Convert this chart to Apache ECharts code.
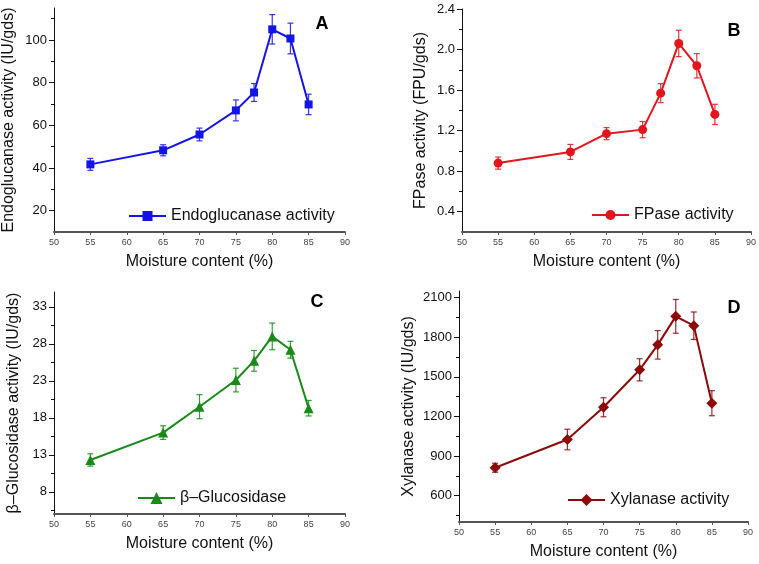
<!DOCTYPE html>
<html>
<head>
<meta charset="utf-8">
<script src="https://cdn.jsdelivr.net/npm/echarts@6/dist/echarts.min.js"></script>
<style>
html,body{margin:0;padding:0;background:#fff;}
#chart{width:759px;height:564px;}
</style>
</head>
<body>
<div id="chart"></div>
<script>
// ---- data ----
const moisture = [55, 65, 70, 75, 77.5, 80, 82.5, 85];
const xTicks = [50, 55, 60, 65, 70, 75, 80, 85, 90];

const endoMean = [41.7, 48.3, 55.7, 67.0, 75.4, 105.0, 100.7, 69.8];
const endoErr  = [2.8, 2.6, 3.0, 4.9, 4.2, 6.9, 7.2, 4.8];
const endoTicks = [20, 40, 60, 80, 100];
const endoMinor = [30, 50, 70, 90, 110];

const fpaseMean = [0.88, 0.99, 1.17, 1.21, 1.57, 2.06, 1.84, 1.36];
const fpaseErr  = [0.06, 0.074, 0.06, 0.08, 0.094, 0.13, 0.12, 0.10];
const fpaseTicks = [0.4, 0.8, 1.2, 1.6, 2.0, 2.4];
const fpaseMinor = [0.6, 1.0, 1.4, 1.8, 2.2];

const glucMean = [12.3, 16.0, 19.5, 23.1, 25.7, 29.0, 27.2, 19.3];
const glucErr  = [0.83, 0.92, 1.63, 1.6, 1.4, 1.8, 1.14, 1.05];
const glucTicks = [8, 13, 18, 23, 28, 33];
const glucMinor = [5.5, 10.5, 15.5, 20.5, 25.5, 30.5];

const xylMean = [811, 1025, 1269, 1553, 1742, 1958, 1887, 1300];
const xylErr  = [34, 78, 72, 84, 108, 128, 104, 95];
const xylTicks = [600, 900, 1200, 1500, 1800, 2100];
const xylMinor = [450, 750, 1050, 1350, 1650, 1950];

const FONT = 'Liberation Sans, Arial, sans-serif';

const panels = [
  {name:'Endoglucanase activity', yName:'Endoglucanase activity (IU/gds)', mean:endoMean, err:endoErr,
   ticks:endoTicks, minor:endoMinor, min:10, max:115, color:'#1414e6', symbol:'rect', symSize:8,
   grid:{left:54, top:8, width:291, height:224}, nameGap:37, fmt:v=>String(v),
   legend:{left:128, top:208}, letter:{t:'A', x:322, y:24}, legendH:12.5},
  {name:'FPase activity', yName:'FPase activity (FPU/gds)', mean:fpaseMean, err:fpaseErr,
   ticks:fpaseTicks, minor:fpaseMinor, min:0.2, max:2.4, color:'#e3141c', symbol:'circle', symSize:9,
   grid:{left:462, top:9, width:291, height:223}, nameGap:33, fmt:v=>v.toFixed(1),
   legend:{left:591, top:207}, letter:{t:'B', x:734, y:31}, legendH:12.5},
  {name:'β\u2013Glucosidase', yName:'β\u2013Glucosidase activity (IU/gds)', mean:glucMean, err:glucErr,
   ticks:glucTicks, minor:glucMinor, min:5, max:35, color:'#188a18', symbol:'triangle', symSize:10,
   grid:{left:54, top:292, width:291, height:222}, nameGap:32, fmt:v=>String(v),
   legend:{left:137, top:490}, letter:{t:'C', x:317, y:302}, legendH:15},
  {name:'Xylanase activity', yName:'Xylanase activity (IU/gds)', mean:xylMean, err:xylErr,
   ticks:xylTicks, minor:xylMinor, min:400, max:2150, color:'#8c0a0a', symbol:'diamond', symSize:11,
   grid:{left:459, top:291, width:289, height:231}, nameGap:42, fmt:v=>String(v),
   legend:{left:567, top:492}, letter:{t:'D', x:734, y:308}, legendH:15}
];

const grid = [], xAxis = [], yAxis = [], series = [], legend = [], graphic = [];

panels.forEach((p, i) => {
  grid.push(Object.assign({containLabel:false}, p.grid));
  xAxis.push({
    type:'value', gridIndex:i, min:50, max:90, interval:5,
    name:'Moisture content (%)', nameLocation:'middle', nameGap:22,
    nameTextStyle:{fontFamily:FONT, fontSize:16, color:'#111'},
    axisLine:{onZero:false, lineStyle:{color:'#555', width:2}},
    axisTick:{show:true, length:3, lineStyle:{color:'#555', width:1}},
    axisLabel:{fontFamily:FONT, fontSize:9, color:'#444', margin:6},
    splitLine:{show:false}
  });
  // major axis (labels + major ticks)
  yAxis.push({
    type:'value', gridIndex:i, position:'left', min:p.min, max:p.max,
    name:p.yName, nameLocation:'middle', nameGap:p.nameGap,
    nameTextStyle:{fontFamily:FONT, fontSize:16, color:'#111'},
    axisLine:{onZero:false, lineStyle:{color:'#111', width:1}},
    axisTick:{show:true, length:5, customValues:p.ticks, lineStyle:{color:'#111', width:1}},
    axisLabel:{fontFamily:FONT, fontSize:13, color:'#111', margin:7, customValues:p.ticks, formatter:p.fmt},
    splitLine:{show:false}
  });
  // minor ticks axis
  yAxis.push({
    type:'value', gridIndex:i, position:'left', min:p.min, max:p.max,
    axisLine:{show:false, onZero:false},
    axisTick:{show:true, length:3, customValues:p.minor, lineStyle:{color:'#111', width:1}},
    axisLabel:{show:false},
    splitLine:{show:false}
  });
  const yIdx = i * 2;
  const errData = moisture.map((x, k) => [x, p.mean[k] - p.err[k], p.mean[k] + p.err[k]]);
  series.push({
    type:'custom', name:p.name + ' err', xAxisIndex:i, yAxisIndex:yIdx, z:1,
    data:errData, encode:{x:0, y:[1,2]}, silent:true,
    renderItem:(params, api) => {
      const x = api.value(0);
      const top = api.coord([x, api.value(2)]);
      const bot = api.coord([x, api.value(1)]);
      const w = 3;
      const st = {stroke:p.color, lineWidth:1.2, opacity:0.85};
      return {type:'group', children:[
        {type:'line', shape:{x1:top[0], y1:top[1], x2:bot[0], y2:bot[1]}, style:st},
        {type:'line', shape:{x1:top[0]-w, y1:top[1], x2:top[0]+w, y2:top[1]}, style:st},
        {type:'line', shape:{x1:bot[0]-w, y1:bot[1], x2:bot[0]+w, y2:bot[1]}, style:st}
      ]};
    }
  });
  series.push({
    type:'line', name:p.name, xAxisIndex:i, yAxisIndex:yIdx, z:3,
    data:moisture.map((x, k) => [x, p.mean[k]]),
    symbol:p.symbol, symbolSize:p.symSize, showSymbol:true,
    lineStyle:{color:p.color, width:2},
    itemStyle:{color:p.color},
    animation:false
  });
  legend.push({
    data:[p.name], left:p.legend.left, top:p.legend.top, padding:0,
    itemWidth:37, itemHeight:p.legendH, itemGap:5,
    textStyle:{fontFamily:FONT, fontSize:16, color:'#111'},
    selectedMode:false
  });
  graphic.push({
    type:'text', x:p.letter.x, y:p.letter.y,
    style:{text:p.letter.t, font:'bold 18px ' + FONT, fill:'#000', align:'center', verticalAlign:'middle'}
  });
});

const chart = echarts.init(document.getElementById('chart'), null, {renderer:'canvas'});
chart.setOption({
  animation:false,
  backgroundColor:'#fff',
  grid, xAxis, yAxis, series, legend, graphic
});
</script>
</body>
</html>
